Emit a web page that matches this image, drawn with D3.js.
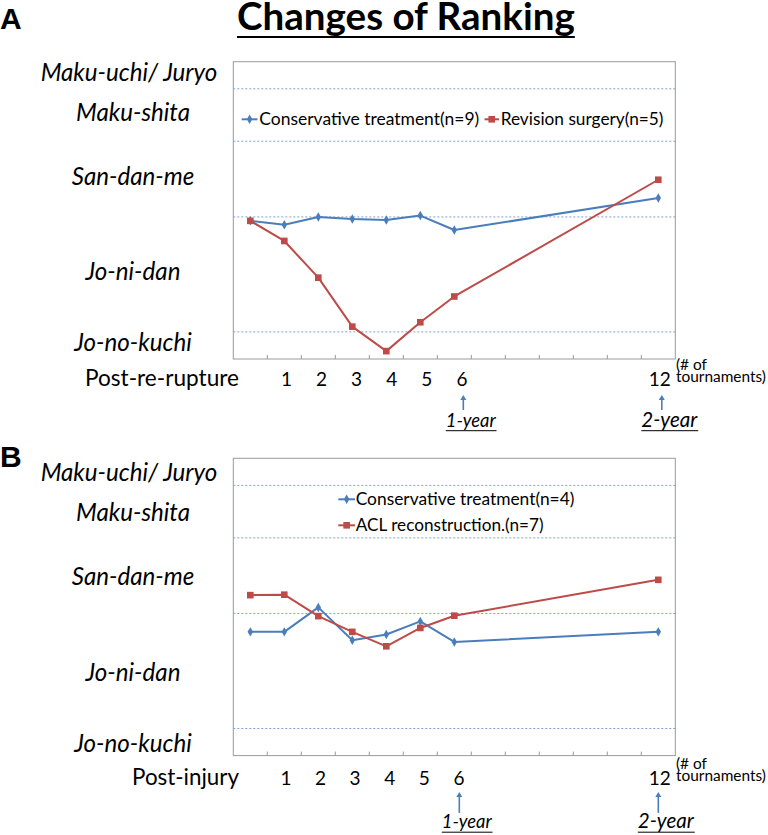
<!DOCTYPE html>
<html>
<head>
<meta charset="utf-8">
<script src="https://cdn.jsdelivr.net/npm/d3@7"></script>
<style>
  html, body { margin: 0; padding: 0; background: #fff; }
  svg { display: block; }
  text { font-family: Lato, "Open Sans", sans-serif; fill: #000; }
</style>
</head>
<body>
<svg id="chart" width="768" height="835"></svg>
<script>
// ---------------- data ----------------
const slots = d3.range(13);                       // category slots 0..12 on the x axis
const tournaments = [0, 1, 2, 3, 4, 5, 6, 12];    // tournaments after event
const tickValues = [1, 2, 3, 4, 5, 6, 12];
const tickLabels = ["1", "2", "3", "4", "5", "6", "12"];
const divisions = ["Maku-uchi/ Juryo", "Maku-shita", "San-dan-me", "Jo-ni-dan", "Jo-no-kuchi"];
const divisionBounds = [62, 182, 355, 618];       // rank boundaries between divisions
const rankMax = 680;

// Panel A: after re-rupture (rank position, larger = lower)
const consA = [364, 373, 355, 360, 362, 352, 385, 312];
const revA  = [364, 410, 494, 606, 662, 596, 537, 270];
// Panel B: after injury
const consB = [397, 397, 341, 416, 403, 373, 420, 397];
const aclB  = [313, 312, 361, 397, 430, 388, 360, 278];

const seriesA = [
  { name: "Conservative treatment(n=9)", values: consA, kind: "cons" },
  { name: "Revision surgery(n=5)", values: revA, kind: "surg" }
];
const seriesB = [
  { name: "Conservative treatment(n=4)", values: consB, kind: "cons" },
  { name: "ACL reconstruction.(n=7)", values: aclB, kind: "surg" }
];

// ---------------- styles ----------------
const BLUE = "#4a7ebb", RED = "#be4b48", GRID = "#7ea3d3", BOX = "#9a9a9a";
const svg = d3.select("#chart");

function fit(sel, w) {
  const cur = parseFloat(sel.style("font-size"));
  const len = sel.node().getComputedTextLength();
  sel.style("font-size", (cur * w / len) + "px");
  return sel;
}

const x = d3.scaleBand().domain(slots).range([233.3, 675.3]).paddingInner(0).paddingOuter(0);
const cx = i => x(i) + x.bandwidth() / 2;

function drawPanel(cfg) {
  const top = cfg.top, bottom = cfg.top + 297.3;
  const y = d3.scaleLinear().domain([0, rankMax]).range([top, bottom]);
  const g = svg.append("g");

  // plot box
  g.append("rect").attr("x", x.range()[0]).attr("y", top)
    .attr("width", x.range()[1] - x.range()[0]).attr("height", bottom - top)
    .attr("fill", "none").attr("stroke", BOX).attr("stroke-width", 1);

  // division gridlines
  g.selectAll(".grid").data(divisionBounds).join("line")
    .attr("x1", x.range()[0]).attr("x2", x.range()[1])
    .attr("y1", d => y(d)).attr("y2", d => y(d))
    .attr("stroke", GRID).attr("stroke-width", 1).attr("stroke-dasharray", "2,2");

  // inner ticks at slot boundaries
  g.selectAll(".tk").data(slots.slice(1)).join("line")
    .attr("x1", d => x(d)).attr("x2", d => x(d))
    .attr("y1", bottom).attr("y2", bottom - 4)
    .attr("stroke", BOX).attr("stroke-width", 1);

  // division labels
  const b = [0, ...divisionBounds, rankMax];
  const labs = g.selectAll(".div").data(divisions).join("text")
    .attr("x", (d, i) => i === 0 ? 129 : 133)
    .attr("y", (d, i) => y((b[i] + b[i + 1]) / 2) + cfg.labelDy)
    .attr("text-anchor", "middle").style("font-style", "italic").style("font-size", "19px")
    .text(d => d);
  const ref = labs.filter((d, i) => i === 1);
  fit(ref, 114);
  labs.style("font-size", ref.style("font-size"));

  // lines
  const line = d3.line().x((d, i) => cx(tournaments[i])).y(d => y(d));
  cfg.series.forEach(s => {
    const col = s.kind === "cons" ? BLUE : RED;
    g.append("path").datum(s.values).attr("d", line)
      .attr("fill", "none").attr("stroke", col).attr("stroke-width", 2).attr("stroke-linejoin", "round");
    const sym = s.kind === "cons" ? d3.symbol(d3.symbolDiamond, 26) : d3.symbol(d3.symbolSquare, 44);
    g.selectAll(null).data(s.values).join("path")
      .attr("transform", (d, i) => `translate(${cx(tournaments[i])},${y(d)})`)
      .attr("d", sym).attr("fill", col);
  });

  // legend
  cfg.legend.forEach((L, k) => {
    const s = cfg.series[k];
    const col = s.kind === "cons" ? BLUE : RED;
    const sym = s.kind === "cons" ? d3.symbol(d3.symbolDiamond, 26) : d3.symbol(d3.symbolSquare, 44);
    g.append("line").attr("x1", L.x0).attr("x2", L.x1).attr("y1", L.y).attr("y2", L.y)
      .attr("stroke", col).attr("stroke-width", 2);
    g.append("path").attr("transform", `translate(${(L.x0 + L.x1) / 2},${L.y})`).attr("d", sym).attr("fill", col);
    const t = g.append("text").attr("x", L.tx).attr("y", L.y).attr("dy", "0.35em")
      .style("font-size", "16px").text(s.name);
    fit(t, L.tw);
  });

  // x axis title & labels
  const xb = bottom + cfg.xDy;
  const xt = g.append("text").attr("x", 239).attr("y", xb).attr("text-anchor", "end")
    .style("font-size", "19px").text(cfg.xTitle);
  fit(xt, cfg.xTitleW);
  g.selectAll(".xl").data(tickValues).join("text")
    .attr("x", (d, i) => cx(d) + (d <= 6 ? 1 + d * cfg.labelSpread : 1.5))
    .attr("y", xb).attr("text-anchor", "middle")
    .style("font-size", "19px").text((d, i) => tickLabels[i]);

  // "(# of tournaments)" note as one text with two lines
  const note = g.append("text").attr("x", 676).attr("y", xb - 16).style("font-size", "12px");
  note.append("tspan").attr("x", 676).attr("y", xb - 16).text("(# of");
  const n2 = note.append("tspan").attr("x", 676).attr("y", xb - 4).text("tournaments)");
  const w2 = n2.node().getComputedTextLength();
  note.style("font-size", (12 * 90 / w2) + "px");

  // arrows and year marks
  [{ v: 6, lab: "1-year", w: 50, dx: cfg.arrowDx6 }, { v: 12, lab: "2-year", w: 56, dx: cfg.arrowDx12 }].forEach(a => {
    const ax = cx(a.v) + a.dx;
    const y0 = xb + cfg.arrowTop, y1 = xb + cfg.arrowBot;
    g.append("line").attr("x1", ax).attr("x2", ax).attr("y1", y0 + 4).attr("y2", y1)
      .attr("stroke", BLUE).attr("stroke-width", 1.6);
    g.append("path").attr("d", `M${ax - 3},${y0 + 5}L${ax},${y0}L${ax + 3},${y0 + 5}Z`).attr("fill", BLUE);
    const t = g.append("text").attr("x", ax + 7.5).attr("y", xb + cfg.yearDy).attr("text-anchor", "middle")
      .style("font-style", "italic").style("font-size", "17px").text(a.lab);
    fit(t, a.w);
    const bb = t.node().getBBox();
    g.append("line").attr("x1", bb.x).attr("x2", bb.x + bb.width)
      .attr("y1", xb + cfg.yearDy + 4).attr("y2", xb + cfg.yearDy + 4)
      .attr("stroke", "#000").attr("stroke-width", 1);
  });
}

drawPanel({
  top: 61.7, series: seriesA, labelDy: 5.5,
  legend: [
    { x0: 241.7, x1: 257.5, y: 119.3, tx: 259.3, tw: 220 },
    { x0: 484.5, x1: 499, y: 119.3, tx: 500.7, tw: 163 }
  ],
  xTitle: "Post-re-rupture", xTitleW: 154, xDy: 27, labelSpread: 1.1,
  arrowTop: 9, arrowBot: 24, yearDy: 40.7, arrowDx6: 9, arrowDx12: 3.5
});

drawPanel({
  top: 458.3, series: seriesB, labelDy: 9.5,
  legend: [
    { x0: 338.3, x1: 355, y: 499.3, tx: 355.7, tw: 219 },
    { x0: 338.3, x1: 355, y: 525.3, tx: 355.7, tw: 188 }
  ],
  xTitle: "Post-injury", xTitleW: 107, xDy: 29.3, labelSpread: 0.6,
  arrowTop: 7, arrowBot: 28, yearDy: 43.3, arrowDx6: 5, arrowDx12: 0
});

// panel letters and title
svg.append("text").attr("x", 0).attr("y", 29).style("font-family", "'Liberation Sans', Arial, sans-serif")
  .style("font-weight", "bold").style("font-size", "30px").text("A");
svg.append("text").attr("x", 0).attr("y", 467).style("font-family", "'Liberation Sans', Arial, sans-serif")
  .style("font-weight", "bold").style("font-size", "30px").text("B");
const title = svg.append("text").attr("x", 237).attr("y", 30)
  .style("font-weight", "bold").style("font-size", "34px").text("Changes of Ranking");
fit(title, 338);
const tb = title.node().getBBox();
svg.append("line").attr("x1", tb.x).attr("x2", tb.x + tb.width).attr("y1", 37).attr("y2", 37)
  .attr("stroke", "#000").attr("stroke-width", 2.2);
</script>
</body>
</html>
